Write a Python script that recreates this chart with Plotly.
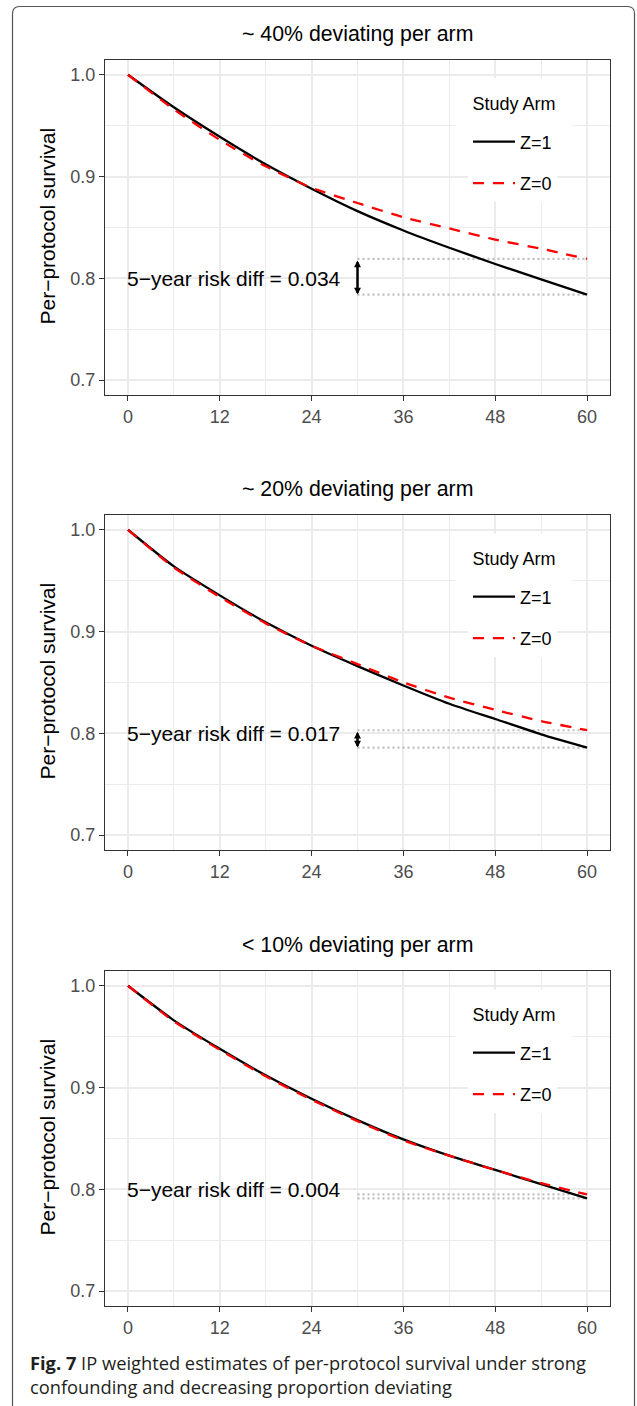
import plotly.graph_objects as go

# ---------------- data ----------------
months = [0, 6, 12, 18, 24, 30, 36, 42, 48, 54, 60]

panel_titles = ["~ 40% deviating per arm", "~ 20% deviating per arm", "< 10% deviating per arm"]
risk_diff_labels = ["0.034", "0.017", "0.004"]

p1_z1 = [1.000, 0.968, 0.939, 0.912, 0.888, 0.866, 0.847, 0.830, 0.814, 0.799, 0.784]
p1_z0 = [1.000, 0.966, 0.936, 0.910, 0.889, 0.874, 0.860, 0.849, 0.838, 0.829, 0.819]

p2_z1 = [1.000, 0.964, 0.9355, 0.909, 0.886, 0.866, 0.847, 0.829, 0.814, 0.799, 0.786]
p2_z0 = [1.000, 0.963, 0.934, 0.908, 0.886, 0.868, 0.850, 0.835, 0.823, 0.812, 0.803]

p3_z1 = [1.000, 0.966, 0.938, 0.912, 0.889, 0.868, 0.849, 0.833, 0.819, 0.805, 0.791]
p3_z0 = [1.000, 0.965, 0.937, 0.911, 0.888, 0.867, 0.848, 0.833, 0.819, 0.806, 0.795]

series_z1 = [p1_z1, p2_z1, p3_z1]
series_z0 = [p1_z0, p2_z0, p3_z0]

x_ticks = [0, 12, 24, 36, 48, 60]
y_ticks = [0.7, 0.8, 0.9, 1.0]
y_tick_labels = ["0.7", "0.8", "0.9", "1.0"]

# ---------------- layout helpers ----------------
W, H = 637, 1406
FONT = "Liberation Sans"


def px(x):
    return x / W


def py(y):
    return 1 - y / H


plot_left, plot_right = 105, 610
plot_tops = [60, 515, 971]
plot_h = 335

fig = go.Figure()
annotations = []
shapes = []

for i in range(3):
    sfx = "" if i == 0 else str(i + 1)
    xref, yref = "x" + sfx, "y" + sfx
    leg = "legend" + sfx
    z1, z0 = series_z1[i], series_z0[i]
    arrow_x = months[len(months) // 2]

    # dotted reference lines at the 5-year values
    for v in (z0[-1], z1[-1]):
        fig.add_trace(go.Scatter(
            x=[arrow_x, months[-1]], y=[v, v], mode="lines",
            line=dict(color="#BEBEBE", width=2.2, dash="2px,3px"),
            showlegend=False, hoverinfo="skip", xaxis=xref, yaxis=yref))

    fig.add_trace(go.Scatter(
        x=months, y=z1, mode="lines", name="Z=1",
        line=dict(color="black", width=2.3, shape="spline", smoothing=0.6),
        legend=leg, legendgroup="z1", xaxis=xref, yaxis=yref))
    fig.add_trace(go.Scatter(
        x=months, y=z0, mode="lines", name="Z=0",
        line=dict(color="#FF0000", width=2.3, dash="11px,9px", shape="spline", smoothing=0.6),
        legend=leg, legendgroup="z0", xaxis=xref, yaxis=yref))

    top = plot_tops[i]
    dom_y = [py(top + plot_h), py(top)]
    axis_common = dict(
        showline=True, mirror=True, linecolor="#333333", linewidth=1.3,
        ticks="outside", ticklen=5, tickwidth=1.3, tickcolor="#333333",
        tickfont=dict(family=FONT, size=18, color="#4D4D4D"),
        gridcolor="#EBEBEB", gridwidth=1.6, zeroline=False,
    )
    fig.update_layout(**{
        "xaxis" + sfx: dict(
            domain=[px(plot_left), px(plot_right)], range=[-3, 63],
            tickmode="array", tickvals=x_ticks, anchor=yref,
            minor=dict(dtick=6, tick0=0, showgrid=True, gridcolor="#EBEBEB", gridwidth=0.8, ticks=""),
            **axis_common),
        "yaxis" + sfx: dict(
            domain=dom_y, range=[0.6853, 1.0145],
            tickmode="array", tickvals=y_ticks, ticktext=y_tick_labels, anchor=xref,
            minor=dict(dtick=0.05, tick0=0.7, showgrid=True, gridcolor="#EBEBEB", gridwidth=0.8, ticks=""),
            **axis_common),
        leg: dict(
            x=px(468), y=py(top + 63.5), xanchor="left", yanchor="top",
            bgcolor="white", borderwidth=0,
            font=dict(family=FONT, size=18, color="black"),
            tracegroupgap=15, traceorder="grouped", itemwidth=42,
        ),
    })

    # legend title (white box covers the grid like the reference key background)
    annotations.append(dict(
        text="Study Arm", xref="paper", yref="paper",
        x=px(514), y=py(top + 18), xanchor="center", yanchor="top",
        width=116, height=50, align="center", valign="middle",
        bgcolor="white", borderpad=0, showarrow=False,
        font=dict(family=FONT, size=18, color="black")))
    # panel title
    annotations.append(dict(
        text=panel_titles[i], xref="paper", yref="paper",
        x=px((plot_left + plot_right) / 2), y=py(top - 26),
        xanchor="center", yanchor="middle", showarrow=False,
        font=dict(family=FONT, size=21.3, color="black")))
    # y axis title
    annotations.append(dict(
        text="Per\u2212protocol survival", xref="paper", yref="paper",
        x=px(47), y=py(top + plot_h / 2 - 1), textangle=-90,
        xanchor="center", yanchor="middle", showarrow=False,
        font=dict(family=FONT, size=21, color="black")))
    # risk-difference label
    annotations.append(dict(
        text="5\u2212year risk diff = " + risk_diff_labels[i], xref=xref, yref=yref,
        x=months[0], y=0.8, xanchor="left", yanchor="middle", showarrow=False,
        xshift=-3, font=dict(family=FONT, size=21, color="black")))
    # double-headed arrow
    annotations.append(dict(
        text="", xref=xref, yref=yref, x=arrow_x, y=z1[-1],
        axref=xref, ayref=yref, ax=arrow_x, ay=z0[-1],
        showarrow=True, arrowside="end+start", arrowhead=2, startarrowhead=2,
        arrowsize=0.55, startarrowsize=0.55, arrowwidth=2.5, arrowcolor="black",
        standoff=0, startstandoff=0))

# caption
annotations.append(dict(
    text="<b>Fig. 7</b> IP weighted estimates of per-protocol survival under strong<br>"
         "confounding and decreasing proportion deviating",
    xref="paper", yref="paper", x=px(28), y=py(1348),
    xanchor="left", yanchor="top", align="left", showarrow=False,
    font=dict(family="Open Sans", size=18.3, color="#231F20")))

# outer frame (rounded top corners)
r = 7
x0, x1, y0, y1 = 12.5, 634.5, 6.5, 1420
path = (f"M {px(x0)},{py(y1)} L {px(x0)},{py(y0 + r)} "
        f"Q {px(x0)},{py(y0)} {px(x0 + r)},{py(y0)} "
        f"L {px(x1 - r)},{py(y0)} Q {px(x1)},{py(y0)} {px(x1)},{py(y0 + r)} "
        f"L {px(x1)},{py(y1)}")
shapes.append(dict(type="path", path=path, xref="paper", yref="paper",
                   line=dict(color="#555555", width=1.2), layer="above"))

fig.update_layout(
    width=W, height=H, margin=dict(l=0, r=0, t=0, b=0),
    paper_bgcolor="white", plot_bgcolor="white",
    annotations=annotations, shapes=shapes,
    font=dict(family=FONT), hovermode=False,
)

fig.write_html("out.html")
